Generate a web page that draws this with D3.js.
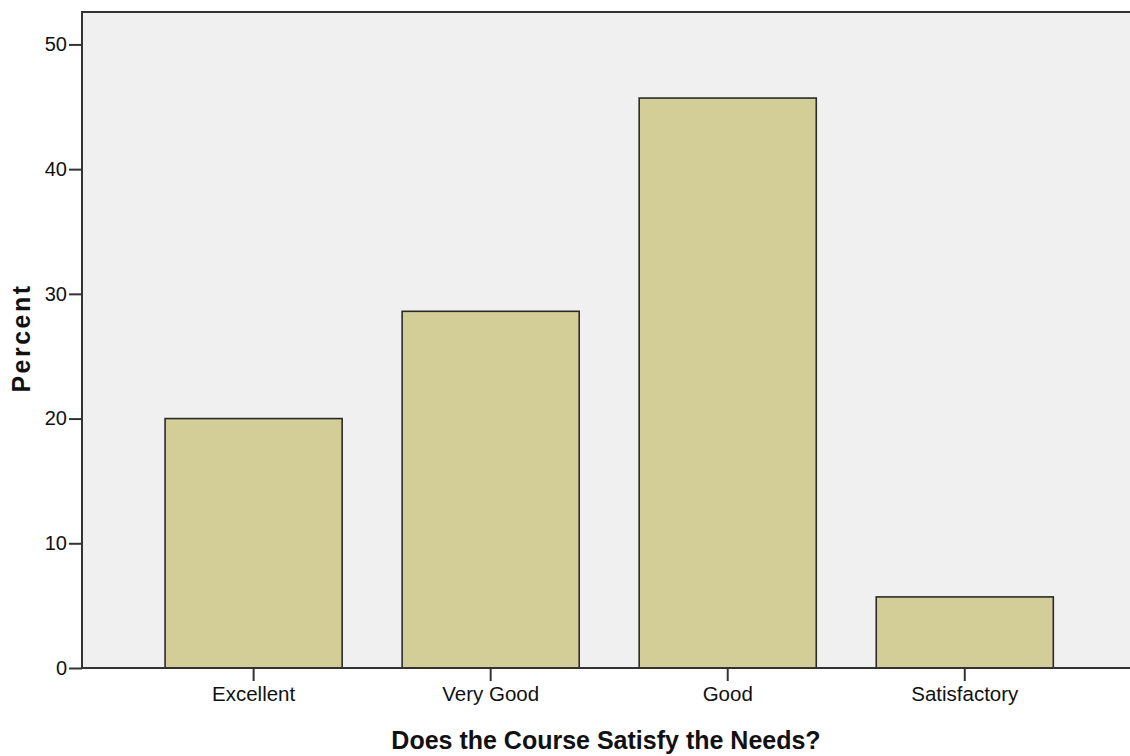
<!DOCTYPE html>
<html>
<head>
<meta charset="utf-8">
<script src="https://cdn.jsdelivr.net/npm/d3@7"></script>
<style>
  body { margin: 0; background: #fff; }
  text { font-family: "Liberation Sans", Arial, sans-serif; fill: #111; }
</style>
</head>
<body>
<div id="chart"></div>
<script>
var w = 1130,
    h = 756;

var categories = ["Excellent", "Very Good", "Good", "Satisfactory"];
var percents = [20.0, 28.6, 45.7, 5.7];
var yTicks = [0, 10, 20, 30, 40, 50];

var pLeft = 82, pTop = 12, pRight = 1130, pBottom = 668;

var svg = d3.select("#chart").append("svg")
    .attr("width", w)
    .attr("height", h);

var x = d3.scaleBand()
    .domain(categories)
    .range([pLeft, pRight])
    .paddingInner(0.253)
    .paddingOuter(0.337)
    .align(0.52);

var y = d3.scaleLinear()
    .domain([0, 52.6])
    .range([pBottom, pTop]);

// plot background
svg.append("rect")
    .attr("x", pLeft)
    .attr("y", pTop)
    .attr("width", pRight - pLeft + 2)
    .attr("height", pBottom - pTop)
    .attr("fill", "#f0f0f0");

svg.selectAll("rect.bar")
    .data(percents)
  .enter().append("rect")
    .attr("class", "bar")
    .attr("x", function(d, i) { return x(categories[i]); })
    .attr("y", function(d) { return y(d); })
    .attr("width", x.bandwidth())
    .attr("height", function(d) { return pBottom - y(d); })
    .attr("fill", "#d3ce97")
    .attr("stroke", "#2b2b2b")
    .attr("stroke-width", 1.6);

// frame: top and left
svg.append("path")
    .attr("d", "M" + pRight + "," + pTop + "H" + pLeft + "V" + pBottom)
    .attr("fill", "none")
    .attr("stroke", "#333")
    .attr("stroke-width", 2);

var yAxis = svg.append("g")
    .attr("transform", "translate(" + pLeft + ",0)")
    .call(d3.axisLeft(y).tickValues(yTicks).tickSize(13).tickPadding(2).tickFormat(d3.format("d")));
yAxis.select(".domain").remove();
yAxis.selectAll("line").attr("stroke", "#333").attr("stroke-width", 2);
yAxis.selectAll("text").attr("font-size", 20).attr("fill", "#222")
    .style("font-family", "'Liberation Sans', Arial, sans-serif");

var xAxis = svg.append("g")
    .attr("transform", "translate(0," + pBottom + ")")
    .call(d3.axisBottom(x).tickSize(13).tickPadding(5));
xAxis.select(".domain").attr("stroke", "#333").attr("stroke-width", 2)
    .attr("d", "M" + pLeft + ",0H" + pRight);
xAxis.selectAll("line").attr("stroke", "#333").attr("stroke-width", 2);
xAxis.selectAll("text").attr("font-size", 20.5).attr("fill", "#222")
    .style("font-family", "'Liberation Sans', Arial, sans-serif");

svg.append("text")
    .attr("x", 606)
    .attr("y", 749)
    .attr("text-anchor", "middle")
    .attr("font-size", 25)
    .attr("font-weight", "bold")
    .text("Does the Course Satisfy the Needs?");

svg.append("text")
    .attr("transform", "translate(30,338)rotate(-90)")
    .attr("text-anchor", "middle")
    .attr("font-size", 25)
    .attr("font-weight", "bold")
    .attr("letter-spacing", 2.5)
    .text("Percent");
</script>
</body>
</html>
